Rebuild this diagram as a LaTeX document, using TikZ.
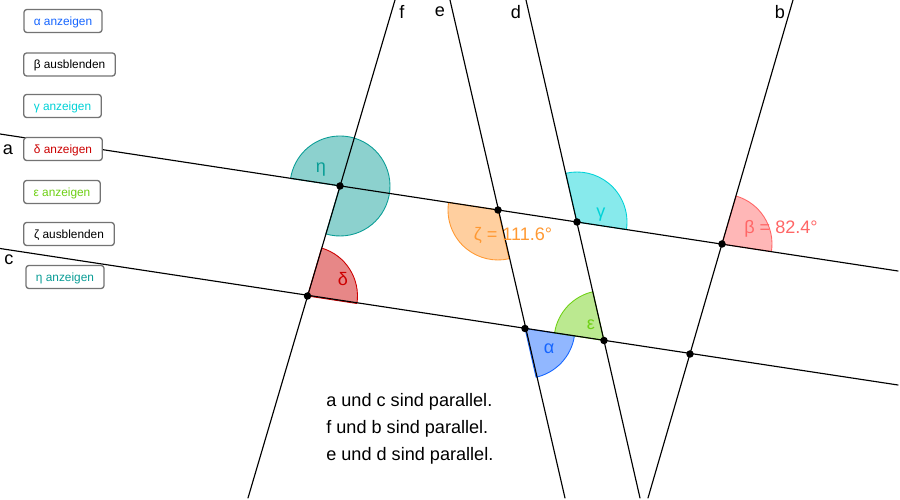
\documentclass[tikz,border=0pt]{standalone}
\usepackage{fontspec}
\setmainfont{Liberation Sans}
\definecolor{alphacol}{RGB}{21,101,255}
\definecolor{betacol}{RGB}{255,102,102}
\definecolor{gammacol}{RGB}{0,210,215}
\definecolor{deltacol}{RGB}{204,0,0}
\definecolor{epscol}{RGB}{110,208,20}
\definecolor{zetacol}{RGB}{255,153,51}
\definecolor{etacol}{RGB}{10,157,150}
\tikzset{
  sector/.style={line width=0.5pt,fill opacity=0.47},
  gline/.style={line width=0.65pt,black},
  btn/.style={draw=black!55,line width=0.75pt,fill=white,rounded corners=1.6pt,font=\fontsize{6.75}{8}\selectfont,text height=5.5pt,text depth=0.5pt,minimum height=0.46cm,inner sep=0pt},
  anglabel/.style={font=\fontsize{10.3}{12}\selectfont},
  linelabel/.style={font=\fontsize{10.3}{12}\selectfont},
  note/.style={font=\fontsize{10.3}{12}\selectfont,anchor=west,inner sep=0pt}
}
\begin{document}
\begin{tikzpicture}[line cap=round,line join=round,x=0.02cm,y=0.02cm]
\useasboundingbox (0,0) rectangle (900,500);
% intersection points
\coordinate (Peta) at (340,314);
\coordinate (Pzeta) at (498,290);
\coordinate (Pgamma) at (577,278);
\coordinate (Pbeta) at (722,256);
\coordinate (Pdelta) at (307.5,204);
\coordinate (Palpha) at (525,171.5);
\coordinate (Peps) at (604,159.5);
\coordinate (Pq) at (690,146);
% free ends of the lines
\coordinate (aL) at (0,366);
\coordinate (aR) at (898,229);
\coordinate (cL) at (0,251.5);
\coordinate (cR) at (898,115);
\coordinate (fT) at (395,500);
\coordinate (fB) at (248,2);
\coordinate (bT) at (793,500);
\coordinate (bB) at (648,2);
\coordinate (eT) at (450,500);
\coordinate (eB) at (565,2);
\coordinate (dT) at (526,500);
\coordinate (dB) at (640,2);
% angles
\draw [sector,draw=etacol,fill=etacol] (Peta) -- ++(253.54:1cm) arc (253.54:531.32:1cm) -- cycle;
\draw [sector,draw=deltacol,fill=deltacol] (Pdelta) -- ++(-8.68:1cm) arc (-8.68:73.54:1cm) -- cycle;
\draw [sector,draw=zetacol,fill=zetacol] (Pzeta) -- ++(171.32:1cm) arc (171.32:282.8:1cm) -- cycle;
\draw [sector,draw=gammacol,fill=gammacol] (Pgamma) -- ++(-8.68:1cm) arc (-8.68:102.8:1cm) -- cycle;
\draw [sector,draw=betacol,fill=betacol] (Pbeta) -- ++(-8.68:1cm) arc (-8.68:73.54:1cm) -- cycle;
\draw [sector,draw=alphacol,fill=alphacol] (Palpha) -- ++(-77.2:1cm) arc (-77.2:-8.68:1cm) -- cycle;
\draw [sector,draw=epscol,fill=epscol] (Peps) -- ++(102.8:1cm) arc (102.8:171.32:1cm) -- cycle;
% lines
\draw [gline] (aL) -- (aR);
\draw [gline] (cL) -- (cR);
\draw [gline] (fT) -- (fB);
\draw [gline] (bT) -- (bB);
\draw [gline] (eT) -- (eB);
\draw [gline] (dT) -- (dB);
% points
\fill (Peta) circle (0.075cm);
\fill (Pzeta) circle (0.075cm);
\fill (Pgamma) circle (0.075cm);
\fill (Pbeta) circle (0.075cm);
\fill (Pdelta) circle (0.075cm);
\fill (Palpha) circle (0.075cm);
\fill (Peps) circle (0.075cm);
\fill (Pq) circle (0.075cm);
% angle labels
\node [anglabel,text=etacol] (lbleta) at (321,330) {η};
\node [anglabel,text=deltacol] (lbldelta) at (343,221) {δ};
\node [anglabel,text=alphacol] (lblalpha) at (549,151) {α};
\node [anglabel,text=epscol] (lbleps) at (591,175) {ε};
\node [anglabel,text=gammacol] (lblgamma) at (601,285) {γ};
\node [anglabel,text=zetacol] (lblzeta) at (513,264) {ζ = 111.6°};
\node [anglabel,text=betacol] (lblbeta) at (781,271) {β = 82.4°};
% line labels
\node [linelabel] (lbla) at (8,350) {a};
\node [linelabel] (lblc) at (9,240) {c};
\node [linelabel] (lblf) at (402,488) {f};
\node [linelabel] (lble) at (440,488) {e};
\node [linelabel] (lbld) at (516,488) {d};
\node [linelabel] (lblb) at (780,488) {b};
% buttons
\node [btn,text=alphacol,minimum width=1.56cm] (btnalpha) at (63,479) {α anzeigen};
\node [btn,text=black,minimum width=1.83cm] (btnbeta) at (69.5,435.5) {β ausblenden};
\node [btn,text=gammacol,minimum width=1.55cm] (btngamma) at (62.5,394) {γ anzeigen};
\node [btn,text=deltacol,minimum width=1.57cm] (btndelta) at (63,351) {δ anzeigen};
\node [btn,text=epscol,minimum width=1.53cm] (btneps) at (62,308) {ε anzeigen};
\node [btn,text=black,minimum width=1.81cm] (btnzeta) at (69,266) {ζ ausblenden};
\node [btn,text=etacol,minimum width=1.56cm] (btneta) at (65,223) {η anzeigen};
% notes
\node [note] (notea) at (326,98) {a und c sind parallel.};
\node [note] (notef) at (326,71) {f und b sind parallel.};
\node [note] (notee) at (326,44) {e und d sind parallel.};
\end{tikzpicture}
\end{document}
